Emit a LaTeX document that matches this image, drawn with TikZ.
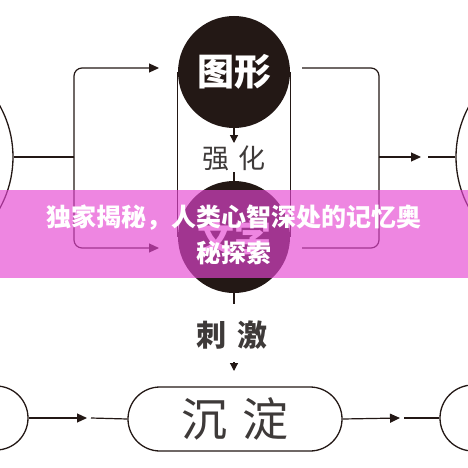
\documentclass[tikz,border=0pt]{standalone}
\usepackage{fontspec}
\newfontfamily\cjk{Noto Sans CJK SC}
\usetikzlibrary{arrows.meta,shapes.misc}
\definecolor{ink}{RGB}{35,24,21}
\definecolor{txtgray}{RGB}{62,58,57}
\definecolor{band}{RGB}{230,70,210}
\begin{document}
\begin{tikzpicture}[x=1pt,y=-1pt,
  conn/.style={draw=ink,line width=1.2pt},
  tip/.style={-{Triangle[length=10pt,width=9pt]}},
  smalltip/.style={-{Triangle[length=8pt,width=8pt]}},
  bigdot/.style={circle,fill=ink,minimum size=112pt,inner sep=0pt,text=white,font=\cjk\bfseries\fontsize{37}{40}\selectfont},
  ring/.style={circle,draw=ink,line width=1.3pt,inner sep=0pt},
  lbl/.style={text=txtgray,inner sep=0pt}
]
\useasboundingbox (0,0) rectangle (468,468);
\clip (0,0) rectangle (468,468);
\fill[white] (0,0) rectangle (468,468);

% shapes
\node[bigdot] (c1) at (234,72) {图形};
\node[bigdot] (c2) at (234,237) {文字};
\node[ring,minimum size=212pt] (L) at (-93,157) {};
\node[ring,minimum size=212pt] (R) at (562,157) {};
\node[ring,minimum size=64pt] (BL) at (-4,418) {};
\node[ring,minimum size=66pt] (BR) at (473,418) {};
\node[rounded rectangle,draw=ink,line width=1.3pt,minimum width=214pt,minimum height=64pt,inner sep=0pt] (cd) at (235,419) {};
\node[lbl,font=\cjk\fontsize{46}{48}\selectfont] at (cd.center) {沉\hspace{16pt}淀};

\node[lbl,font=\cjk\fontsize{27}{30}\selectfont] (qh) at (234,158) {强\hspace{9pt}化};
\node[lbl,font=\cjk\bfseries\fontsize{30}{32}\selectfont] (cj) at (232,335) {刺\hspace{11pt}激};

% tangent lines
\draw[conn] (c1.west) -- (c2.west);
\draw[conn] (c1.east) -- (c2.east);

% vertical flow
\draw[conn,smalltip] (c1.south) -- (234,143);
\draw[conn] (234,172) -- (c2.north);
\draw[conn] (c2.south) -- (234,304);
\coordinate (dt1) at (234,362);
\coordinate (dt2) at (234,371);
\draw[conn,smalltip] (dt1) -- (dt2);

% left loop
\coordinate (jl) at (74,157);
\coordinate (tl) at (159,68);
\coordinate (bl) at (159,248);
\draw[conn] (L.east) -- (jl);
\draw[conn,tip,rounded corners=8pt] (jl) |- (tl);
\draw[conn,tip,rounded corners=8pt] (jl) |- (bl);

% right loop
\coordinate (jr) at (379,157);
\coordinate (tr) at (302,68);
\coordinate (br) at (302,248);
\coordinate (ra) at (421,157);
\coordinate (rb) at (428,157);
\draw[conn,rounded corners=8pt] (tr) -| (jr);
\draw[conn,rounded corners=8pt] (br) -| (jr);
\draw[conn,tip] (jr) -- (ra);
\draw[conn] (rb) -- (R.west);

% bottom row
\coordinate (la) at (87,418);
\coordinate (lb) at (91,418);
\coordinate (rra) at (400,418);
\coordinate (rrb) at (404,418);
\draw[conn,tip] (BL.east) -- (la);
\draw[conn] (lb) -- (cd.west);
\draw[conn,tip] (cd.east) -- (rra);
\draw[conn] (rrb) -- (BR.west);

% banner
\fill[band,opacity=0.65] (0,190) rectangle (468,278);
\node[text=white,align=center,inner sep=0pt,font=\cjk\bfseries\fontsize{25}{36}\selectfont] (title) at (234,235) {独家揭秘，人类心智深处的记忆奥\\秘探索};
\end{tikzpicture}
\end{document}
